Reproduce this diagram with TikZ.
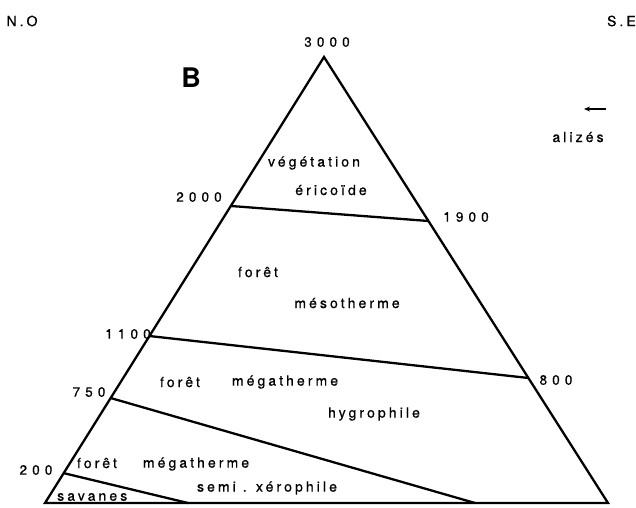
\documentclass[tikz,border=0pt]{standalone}
\usepackage{fontspec}
\usetikzlibrary{calc,arrows.meta}
\newfontfamily\lab{TeX Gyre Heros}[LetterSpace=22,FakeBold=0.6]
\newfontfamily\labN{TeX Gyre Heros}[LetterSpace=38,FakeBold=0.6]
\newfontfamily\labB{TeX Gyre Heros}
\tikzset{
  bound/.style={line width=2.3pt, line join=miter},
  txt/.style={inner sep=0pt, font=\lab\fontsize{14}{16}\selectfont},
  num/.style={inner sep=0pt, font=\labN\fontsize{13.5}{16}\selectfont},
}
\begin{document}
\begin{tikzpicture}[x=1pt,y=-1pt]
\useasboundingbox (0,0) rectangle (636,507);
\coordinate (A) at (324,57);
\coordinate (L) at (45,503);
\coordinate (R) at (608,503);
\coordinate (p2000) at ($(A)!0.334!(L)$);
\coordinate (p1100) at ($(A)!0.6256!(L)$);
\coordinate (p750) at ($(A)!0.7646!(L)$);
\coordinate (p200) at ($(A)!0.933!(L)$);
\coordinate (p1900) at ($(A)!0.3677!(R)$);
\coordinate (p800) at ($(A)!0.7197!(R)$);
\coordinate (b750) at (475,503);
\coordinate (b200) at (188,503);
\draw[bound] (A) -- (L) -- (R) -- cycle;
\draw[bound] (p2000) -- (p1900);
\draw[bound] (p1100) -- (p800);
\draw[bound] (p750) -- (b750);
\draw[bound] (p200) -- (b200);
% labels
\node[txt] (no) at (22,21) {N.O};
\node[txt, anchor=east] (se) at (636,21) {S.E};
\node[inner sep=0pt, font=\labB\bfseries\fontsize{27}{30}\selectfont] (B) at (191,78) {B};
\node[num] (n3000) at (327,42) {3000};
\node[num] (n2000) at (199,197) {2000};
\node[num] (n1900) at (466,217) {1900};
\node[num] (n1100) at (128,334) {1100};
\node[num] (n800) at (556,380) {800};
\node[num] (n750) at (89,392) {750};
\node[num] (n200) at (36,470) {200};
\node[txt] (t1) at (314,163) {végétation};
\node[txt] (t2) at (331,190) {éricoïde};
\node[txt] (t3) at (258,272) {forêt};
\node[txt] (t4) at (347,303) {mésotherme};
\node[txt] (t5) at (180,382) {forêt};
\node[txt] (t6) at (285,382) {mégatherme};
\node[txt] (t7) at (374,414) {hygrophile};
\node[txt] (t8) at (97,463) {forêt};
\node[txt] (t9) at (196,464) {mégatherme};
\node[txt] (t10) at (267,488) {semi . xérophile};
\node[txt, anchor=west] (t11) at (57,497) {savanes};
\node[txt] (t12) at (578,137) {alizés};
\coordinate (wa) at (606,109);
\coordinate (wb) at (584,109);
\draw[line width=1.3pt, -{Stealth[length=6pt,width=5pt]}] (wa) -- (wb);
\end{tikzpicture}
\end{document}
